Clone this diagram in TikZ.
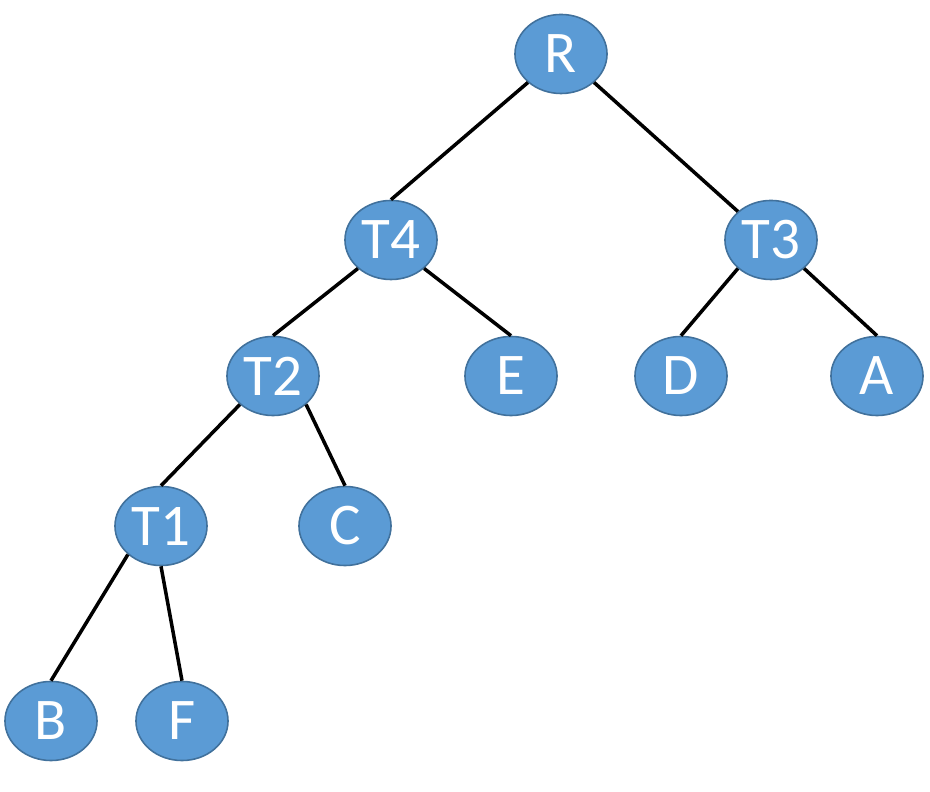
\documentclass[tikz,border=0pt]{standalone}
\usepackage{fontspec}
\setmainfont{Carlito}
\usepackage{xcolor}
\definecolor{nodeblue}{RGB}{91,155,213}
\definecolor{nodeedge}{RGB}{65,113,156}
\usepackage{tikz}
\usetikzlibrary{shapes.geometric}

\begin{document}
\begin{tikzpicture}[x=0.01cm, y=-0.01cm]
  \tikzset{
    tnode/.style={ellipse, fill=nodeblue, draw=nodeedge, line width=0.45pt,
      minimum width=0.92cm, minimum height=0.79cm, inner sep=0pt,
      text=white, font=\fontsize{16.8}{19}\selectfont},
    tedge/.style={black, line width=1pt}
  }
  \useasboundingbox (0,0) rectangle (930,792);

  % root and inner nodes
  \node[tnode] (R)  at (561,54)  {R};
  \node[tnode] (T4) at (391,240) {T4};
  \node[tnode] (T3) at (771,240) {T3};
  \node[tnode] (T2) at (273,376) {T2};
  \node[tnode] (T1) at (161,526) {T1};

  % leaves
  \node[tnode] (E) at (511,376) {E};
  \node[tnode] (D) at (681,376) {D};
  \node[tnode] (A) at (877,376) {A};
  \node[tnode] (C) at (345,526) {C};
  \node[tnode] (B) at (51,721)  {B};
  \node[tnode] (F) at (182,721) {F};

  % edges
  \draw[tedge] (R.south west) -- (T4.north);
  \draw[tedge] (R.south east) -- (T3.north west);
  \draw[tedge] (T4.south west) -- (T2.north);
  \draw[tedge] (T4.south east) -- (E.north);
  \draw[tedge] (T3.south west) -- (D.north);
  \draw[tedge] (T3.south east) -- (A.north);
  \draw[tedge] (T2.south west) -- (T1.north);
  \draw[tedge] (T2.south east) -- (C.north);
  \draw[tedge] (T1.south west) -- (B.north);
  \draw[tedge] (T1.south) -- (F.north);
\end{tikzpicture}
\end{document}
